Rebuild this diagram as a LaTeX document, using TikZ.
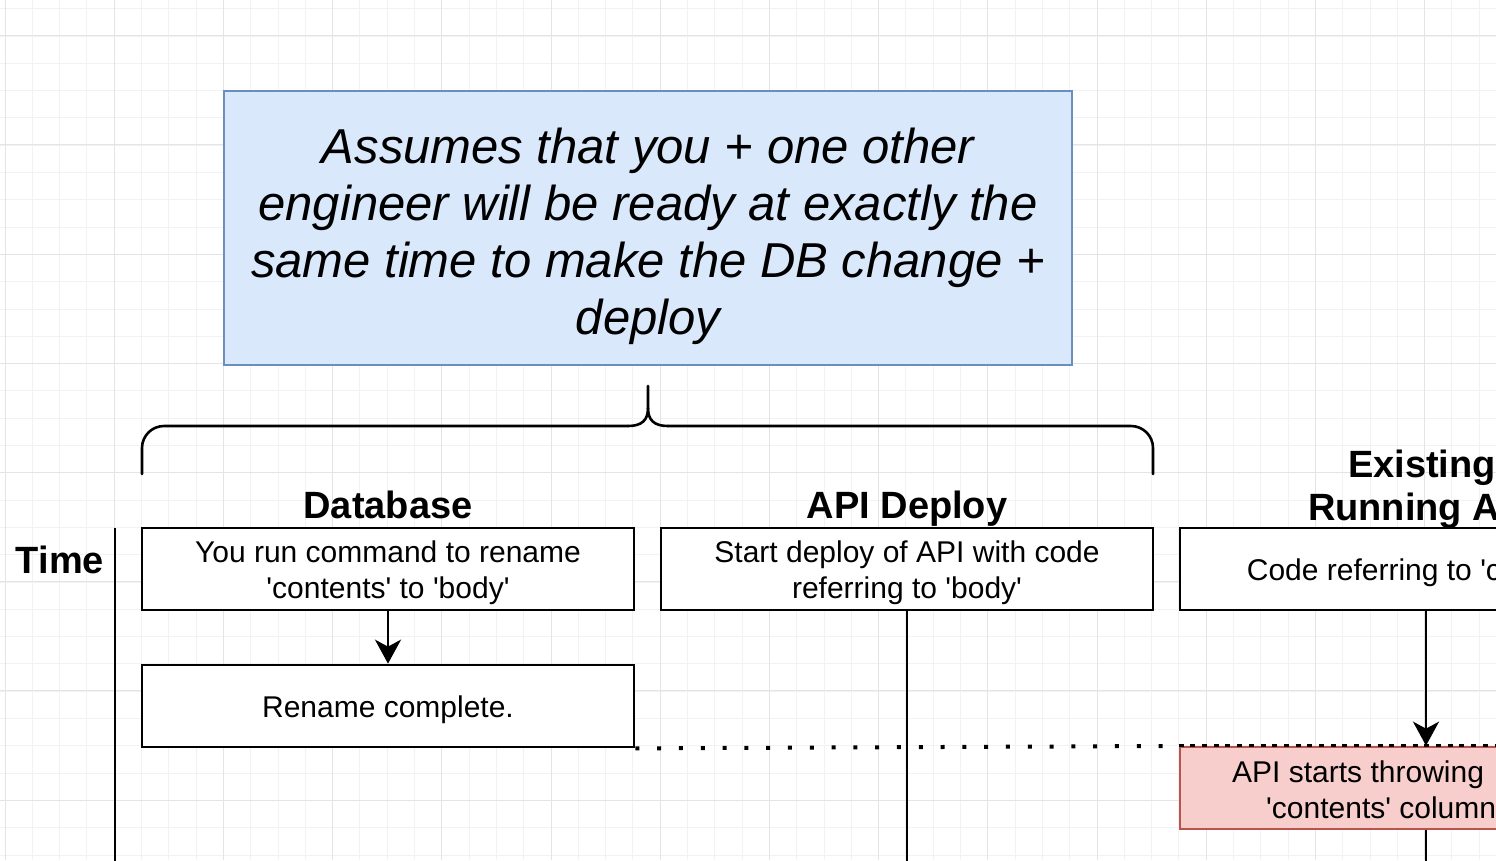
\documentclass[tikz,border=0pt]{standalone}
\usepackage{fontspec}
\setmainfont{Liberation Sans}[Ligatures=TeXOff]
\usetikzlibrary{arrows.meta}
\definecolor{gridminor}{HTML}{F2F2F2}
\definecolor{gridmajor}{HTML}{E4E4E4}
\definecolor{bluefill}{HTML}{DAE8FC}
\definecolor{bluebd}{HTML}{6C8EBF}
\definecolor{redfill}{HTML}{F8CECC}
\definecolor{redbd}{HTML}{B85450}
\begin{document}
\begin{tikzpicture}[x=1pt,y=-1pt,
  box/.style={draw=black, line width=2.7pt, fill=white, minimum width=492pt, minimum height=82pt, inner sep=0pt, align=center, font=\fontsize{30}{36}\selectfont, text height=28pt, text depth=6pt},
  twoline/.style={text height=64pt, text depth=6pt},
  lbl/.style={font=\fontsize{30}{36}\selectfont, inner sep=0pt},
  ttl/.style={font=\fontsize{38}{43}\selectfont\bfseries, align=center, inner sep=0pt},
  conn/.style={line width=2.6pt},
  arr/.style={conn, -{Stealth[length=24pt,width=26pt,inset=7pt]}},
  bracestyle/.style={line width=2.6pt, line cap=round},
  dotline/.style={line width=4pt, dash pattern=on 4pt off 17.8pt},
]
\useasboundingbox (0,0) rectangle (1496,860);
\clip (0,0) rectangle (1496,860);
\fill[white] (0,0) rectangle (1496,860);
% grid
\foreach \i in {0,...,55} \draw[gridminor, line width=1pt] ({5+27.3*\i},0) -- ({5+27.3*\i},860);
\foreach \i in {0,...,32} \draw[gridminor, line width=1pt] (0,{8.7+27.3*\i}) -- (1496,{8.7+27.3*\i});
\foreach \i in {0,...,13} \draw[gridmajor, line width=1pt] ({5+109.2*\i},0) -- ({5+109.2*\i},860);
\foreach \i in {0,...,8} \draw[gridmajor, line width=1pt] (0,{35.6+109.2*\i}) -- (1496,{35.6+109.2*\i});

% note
\node[draw=bluebd, fill=bluefill, line width=2.7pt, minimum width=848pt, minimum height=274pt, inner sep=0pt,
      font=\fontsize{49}{57}\selectfont\itshape, align=center, text height=220pt, text depth=8pt] (note) at (648,228)
  {Assumes that you + one other\\engineer will be ready at exactly the\\same time to make the DB change +\\deploy};

% brace
\coordinate (bl) at (142,474);
\coordinate (br) at (1153,474);
\coordinate (btip) at (648,386);
\draw[bracestyle, rounded corners=22pt] (bl) -- (142,426) -- (628,426);
\draw[bracestyle] (628,426) .. controls (642,426) and (648,420) .. (648,408) -- (btip);
\draw[bracestyle] (648,408) .. controls (648,420) and (654,426) .. (668,426);
\draw[bracestyle, rounded corners=22pt] (668,426) -- (1153,426) -- (br);

% titles
\node[ttl, anchor=base] (tdb) at (388,518) {Database};
\node[ttl, anchor=base] (tapi) at (907,518) {API Deploy};
\node[ttl, anchor=base] (tex) at (1422,520) {Existing\\Running API};
\node[ttl, anchor=base] (time) at (60,573) {Time};

% time axis
\coordinate (t0) at (115,528);
\coordinate (t1) at (115,862);
\draw[conn] (t0) -- (t1);

% boxes
\node[box, twoline] (db1) at (388,569) {You run command to rename\\'contents' to 'body'};
\node[box] (db2) at (388,706) {Rename complete.};
\node[box, twoline] (api) at (907,569) {Start deploy of API with code\\referring to 'body'};
\node[box] (ex) at (1426,569) {Code referring to 'contents'};

% dotted line
\coordinate (dotend) at (1166,746);
\draw[dotline] (db2.south east) -- (dotend);

% error box
\node[box, draw=redbd, fill=redfill] (err) at (1426,788) {};
\node[lbl, anchor=base west] (err1) at (1232,782) {API starts throwing};
\node[lbl, anchor=base west] (err2) at (1266,818) {'contents' column};
\draw[line width=2.6pt, dash pattern=on 5pt off 6.7pt] (err.north west) -- (err.north east);

% connectors
\coordinate (apiend) at (907,862);
\coordinate (errend) at (1426,862);
\draw[arr] (db1.south) -- (db2.north);
\draw[conn] (api.south) -- (apiend);
\draw[arr] (ex.south) -- (err.north);
\draw[conn] (err.south) -- (errend);
\end{tikzpicture}
\end{document}
